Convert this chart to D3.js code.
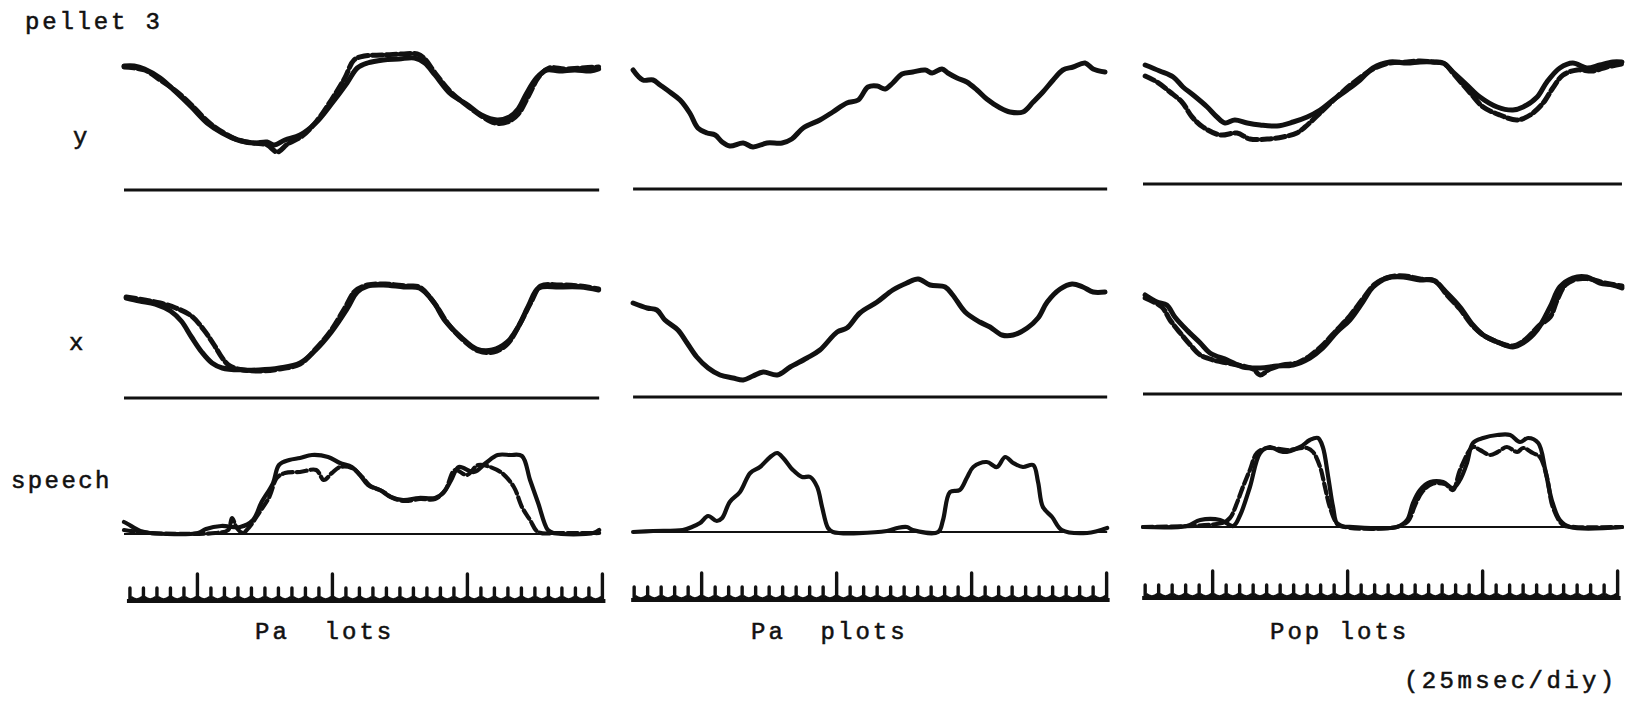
<!DOCTYPE html>
<html>
<head>
<meta charset="utf-8">
<script src="https://cdn.jsdelivr.net/npm/d3@7"></script>
<style>
  body { margin: 0; background: #fff; }
  text { font-family: "Liberation Mono", monospace; fill: #111; stroke: #111; stroke-width: 0.55px; }
</style>
</head>
<body>
<svg id="fig" width="1625" height="701"></svg>
<script>
// time in ms (ruler = 25 ms per division), values = displacement above each baseline (arb. units)
var words = ["Pa  lots", "Pa  plots", "Pop lots"];
var rowNames = ["y", "x", "speech"];
var tickStep = 25;      // ms per division
var longEvery = 10;     // long tooth every 10 divisions

// ---- Pa lots ----
var paLotsY = [[0,124],[19,124],[38,121],[67,112],[96,98],[125,83],[154,67],[182,57],[211,50],[240,47],[265,48],[278,45],[298,50],[326,55],[355,67],[384,86],[413,107],[432,122],[451,127],[480,130],[509,131],[538,132],[557,127],[576,115],[605,96],[634,86],[662,75],[691,70],[714,73],[730,81],[745,96],[764,112],[783,120],[806,119],[835,120],[864,119],[879,121]];
var paLotsY2 = [[0,123],[38,120],[67,110],[96,99],[125,85],[154,69],[182,58],[211,50],[240,47],[265,45],[284,38],[303,46],[330,54],[357,69],[384,90],[409,112],[426,130],[445,134],[480,135],[515,136],[543,136],[557,131],[576,117],[605,98],[634,85],[662,74],[687,67],[710,68],[730,76],[749,94],[768,113],[787,122],[816,121],[845,122],[879,123]];
var paLotsX = [[4,100],[29,97],[58,94],[86,87],[106,77],[125,61],[144,46],[163,35],[182,30],[221,28],[250,28],[288,30],[326,35],[355,48],[384,66],[413,89],[432,106],[451,112],[480,113],[518,111],[547,110],[572,97],[595,77],[624,61],[653,49],[682,48],[710,56],[730,71],[749,92],[768,110],[806,111],[845,111],[879,108]];
var paLotsX2 = [[4,101],[38,98],[67,95],[96,90],[125,82],[148,68],[167,53],[182,40],[196,32],[221,28],[253,27],[288,29],[326,34],[355,49],[384,68],[409,90],[428,107],[451,113],[484,114],[522,112],[547,111],[576,94],[599,75],[628,58],[657,47],[684,46],[710,54],[733,74],[753,95],[772,112],[806,113],[845,112],[879,109]];
var paLotsS = [[0,12],[7,10],[30,3],[48,1],[137,1],[152,5],[180,8],[215,7],[239,14],[254,31],[276,51],[287,69],[306,74],[326,76],[348,79],[378,77],[400,71],[422,67],[437,59],[452,49],[474,44],[494,37],[517,34],[546,36],[576,36],[591,41],[606,54],[620,67],[648,62],[670,71],[692,79],[715,79],[737,78],[752,54],[767,31],[785,4],[796,1],[869,1],[880,4]];
var paLotsS2 = [[0,4],[48,1],[169,1],[193,4],[200,16],[209,6],[220,1],[232,7],[250,21],[269,37],[283,56],[298,61],[326,62],[356,64],[370,54],[385,61],[400,67],[422,66],[441,57],[456,48],[478,43],[498,36],[520,33],[548,35],[576,35],[595,44],[613,64],[635,59],[656,69],[678,67],[700,61],[722,47],[737,27],[752,14],[767,2],[807,1],[880,1]];

// ---- Pa plots ----
var paPlotsY = [[2,119],[20,109],[39,109],[52,104],[70,97],[89,89],[107,76],[122,61],[139,56],[154,54],[167,47],[181,43],[206,46],[224,42],[250,46],[278,46],[296,50],[317,61],[348,69],[372,77],[398,86],[419,89],[437,102],[454,103],[469,100],[483,106],[500,115],[520,117],[543,119],[556,116],[574,120],[585,116],[602,111],[620,107],[639,99],[657,90],[682,81],[700,77],[724,77],[743,87],[761,97],[780,109],[798,119],[817,122],[839,126],[854,120],[876,117]];
var paPlotsX = [[2,94],[28,89],[46,87],[61,77],[85,67],[102,54],[120,40],[141,29],[163,22],[187,19],[206,17],[224,21],[243,25],[269,22],[293,30],[324,39],[348,47],[380,65],[398,69],[422,84],[454,95],[483,107],[509,114],[530,118],[552,112],[580,110],[594,102],[617,85],[644,75],[663,70],[685,62],[706,62],[732,69],[752,79],[769,95],[793,108],[815,113],[835,110],[854,105],[876,105]];
var paPlotsS = [[2,0],[39,1],[94,2],[111,5],[126,9],[141,16],[157,11],[167,14],[181,30],[200,40],[219,59],[237,65],[256,75],[269,79],[280,74],[298,62],[315,55],[330,55],[343,45],[352,25],[363,4],[372,0],[472,1],[491,4],[509,5],[520,2],[567,0],[576,12],[589,40],[607,42],[620,54],[632,65],[657,70],[676,65],[691,75],[706,69],[724,65],[743,67],[752,50],[761,25],[778,15],[796,2],[843,-1],[880,4]];

// ---- Pop lots ----
var popLotsY = [[4,119],[31,113],[56,107],[74,97],[93,89],[119,77],[137,67],[152,61],[170,64],[193,61],[217,59],[248,58],[278,62],[304,67],[328,74],[352,84],[378,94],[402,104],[426,116],[457,122],[489,121],[513,122],[537,122],[556,121],[574,112],[600,99],[624,87],[656,77],[685,74],[704,77],[730,87],[748,102],[772,116],[796,121],[822,116],[846,119],[870,122],[887,122]];
var popLotsY2 = [[4,108],[26,102],[50,92],[72,82],[91,67],[111,57],[143,49],[174,51],[198,45],[230,45],[259,47],[285,51],[300,57],[328,71],[359,87],[389,101],[426,115],[457,121],[489,122],[513,123],[537,122],[559,120],[574,111],[606,91],[630,77],[661,69],[693,64],[717,69],[741,81],[759,96],[778,109],[804,114],[833,113],[859,117],[887,120]];
var popLotsX = [[4,99],[26,92],[44,89],[59,77],[81,64],[106,51],[124,41],[156,34],[185,27],[217,26],[248,28],[278,29],[309,36],[333,46],[359,62],[383,74],[407,92],[426,107],[452,116],[482,117],[513,114],[537,114],[563,101],[587,87],[611,69],[630,59],[656,52],[685,47],[704,51],[730,64],[754,87],[772,107],[796,116],[822,117],[846,111],[870,109],[887,106]];
var popLotsX2 = [[4,96],[35,87],[50,74],[69,61],[91,47],[106,39],[130,34],[156,31],[185,28],[204,25],[217,19],[235,25],[259,29],[285,31],[309,38],[333,49],[359,64],[383,78],[407,95],[430,110],[457,117],[485,118],[513,115],[541,113],[563,99],[587,85],[611,68],[633,58],[661,51],[685,48],[707,54],[735,69],[754,77],[767,94],[782,109],[804,115],[828,115],[855,111],[887,108]];
var popLotsS = [[0,0],[81,1],[106,7],[143,7],[167,1],[180,12],[198,40],[217,74],[235,80],[259,75],[291,80],[309,87],[324,89],[333,80],[343,50],[352,20],[361,2],[389,0],[470,0],[489,7],[500,24],[513,37],[532,45],[556,45],[574,39],[587,47],[600,64],[611,84],[630,89],[656,92],[680,92],[698,85],[713,89],[732,84],[745,57],[757,27],[772,7],[791,0],[887,0]];
var popLotsS2 = [[0,0],[146,4],[161,9],[174,24],[185,40],[198,57],[211,74],[230,79],[267,77],[304,79],[315,75],[328,60],[337,40],[346,20],[359,4],[374,0],[470,0],[491,6],[504,22],[517,35],[535,43],[559,43],[574,37],[587,57],[611,80],[624,77],[643,72],[657,75],[674,80],[693,75],[704,79],[722,74],[735,70],[748,50],[759,20],[778,2],[800,0],[887,0]];

// baseline extents (ms) and first ruler tooth (ms) per utterance
var lineStart = [0, 2, 0];
var lineEnd = [880, 880, 887];
var rulerStart = [11, 4, 4];
var rulerCount = [36, 36, 36];

var panels = [
  { left: 124, traces: [[paLotsY, paLotsY2], [paLotsX, paLotsX2], [paLotsS, paLotsS2]], bases: [190, 398, 534], ruler: 601 },
  { left: 632, traces: [[paPlotsY], [paPlotsX], [paPlotsS]], bases: [189, 397, 532], ruler: 600 },
  { left: 1143, traces: [[popLotsY, popLotsY2], [popLotsX, popLotsX2], [popLotsS, popLotsS2]], bases: [184, 394, 527], ruler: 598 }
];

var svg = d3.select("#fig");
var ink = "#111";

panels.forEach(function (p, i) {
  var x = d3.scaleLinear().domain([0, 900]).range([p.left, p.left + 900 / 1.852]);

  p.bases.forEach(function (base, r) {
    var y = d3.scaleLinear().domain([0, 100]).range([base, base - 100]);
    var line = d3.line()
      .x(function (d) { return x(d[0]); })
      .y(function (d) { return y(d[1]); })
      .curve(d3.curveCatmullRom.alpha(0.5));

    svg.append("line")
      .attr("x1", x(lineStart[i])).attr("x2", x(lineEnd[i]))
      .attr("y1", y(0)).attr("y2", y(0))
      .attr("stroke", ink)
      .attr("stroke-width", r == 2 ? 2.2 : 3.2);

    p.traces[r].forEach(function (tr, k) {
      svg.append("path")
        .datum(tr)
        .attr("d", line)
        .attr("fill", "none")
        .attr("stroke", ink)
        .attr("stroke-width", r == 2 ? 4.2 : 5)
        .attr("stroke-linejoin", "round")
        .attr("stroke-linecap", "round")
        .attr("stroke-dasharray", k == 1 ? "10,4" : null);
    });
  });

  // time ruler, 25 ms/div -- teeth joined by little u-shaped bottoms
  var teeth = d3.range(rulerCount[i]).map(function (n) { return rulerStart[i] + n * tickStep; });
  var step = x(tickStep) - x(0);
  svg.append("line")
    .attr("x1", x(rulerStart[i]) - 3).attr("x2", x(teeth[teeth.length - 1]) + 3)
    .attr("y1", p.ruler).attr("y2", p.ruler)
    .attr("stroke", ink).attr("stroke-width", 4);
  svg.selectAll(null)
    .data(teeth.slice(1))
    .enter()
    .append("path")
    .attr("d", function (d) {
      var a = x(d - tickStep), b = x(d);
      return "M" + (a + 1) + "," + (p.ruler - 4) + " Q" + (a + step / 2) + "," + (p.ruler + 1) + " " + (b - 1) + "," + (p.ruler - 4);
    })
    .attr("fill", "none")
    .attr("stroke", ink)
    .attr("stroke-width", 2.5);
  svg.selectAll(null)
    .data(teeth)
    .enter()
    .append("line")
    .attr("x1", function (d) { return x(d); })
    .attr("x2", function (d) { return x(d); })
    .attr("y1", p.ruler)
    .attr("y2", function (d, n) { return p.ruler - (n % longEvery == 5 ? 27 : 13); })
    .attr("stroke", ink)
    .attr("stroke-width", 3.4)
    .attr("stroke-linecap", "round");
});

function label(txt, px, py, ls) {
  svg.append("text")
    .attr("x", px).attr("y", py)
    .attr("xml:space", "preserve")
    .style("white-space", "pre")
    .style("font-size", "24px")
    .style("letter-spacing", (ls || 3) + "px")
    .text(txt);
}

label("pellet 3", 25, 29, 2.8);
label(rowNames[0], 73, 144);
label(rowNames[1], 69, 350);
label(rowNames[2], 11, 488, 2.4);
label(words[0], 255, 639);
label(words[1], 751, 639);
label(words[2], 1270, 639);
label("(25msec/diy)", 1404, 688, 3.4);
</script>
</body>
</html>
